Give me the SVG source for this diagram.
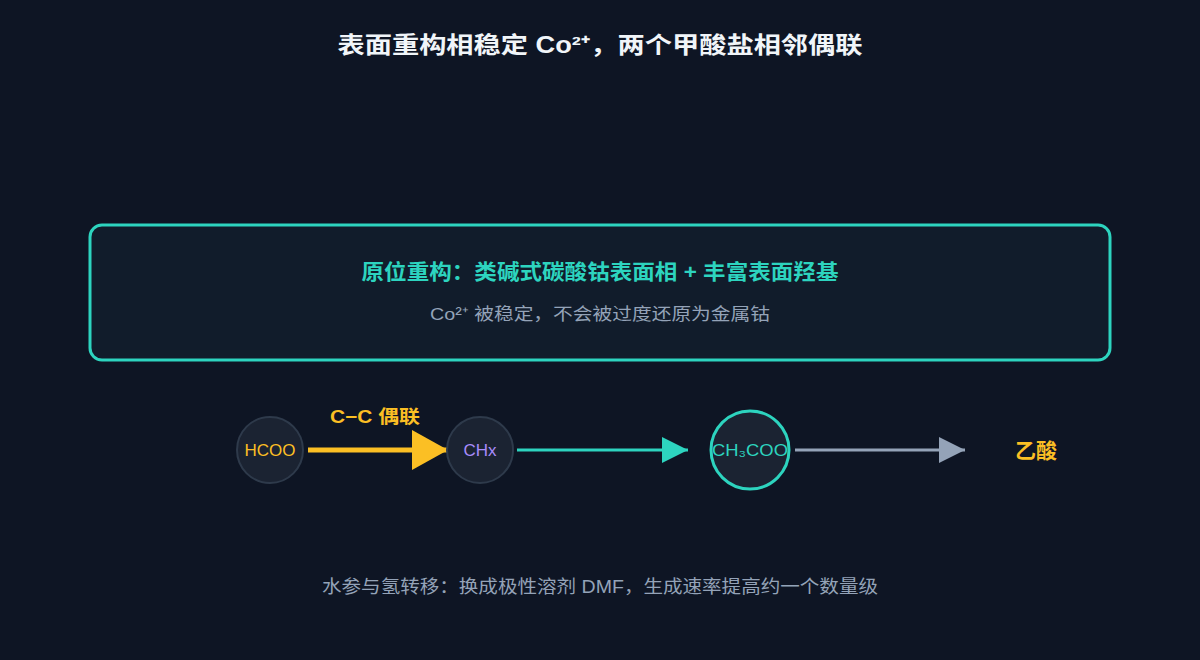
<svg xmlns="http://www.w3.org/2000/svg" width="1200" height="660" viewBox="0 0 1200 660">
<style>
text{font-family:"Liberation Sans","Noto Sans CJK SC",sans-serif}
.node{fill:#1b2332;stroke:#2e3a4b;stroke-width:2}
.lbl{font-size:17px;text-anchor:middle}
</style>
<defs>
<marker id="ay" markerUnits="userSpaceOnUse" markerWidth="40" markerHeight="40" refX="36" refY="20" orient="auto"><path d="M0,0L36,20L0,40z" fill="#fbbf24"/></marker>
<marker id="at" markerUnits="userSpaceOnUse" markerWidth="28" markerHeight="28" refX="26" refY="13" orient="auto"><path d="M0,0L26,13L0,26z" fill="#2dd4bf"/></marker>
<marker id="ag" markerUnits="userSpaceOnUse" markerWidth="28" markerHeight="28" refX="26" refY="13" orient="auto"><path d="M0,0L26,13L0,26z" fill="#94a3b8"/></marker>
</defs>
<rect width="1200" height="660" fill="#0e1524"/>
<text x="600" y="53" font-size="23" font-weight="bold" fill="#f1f5f9" text-anchor="middle" textLength="525" lengthAdjust="spacingAndGlyphs">表面重构相稳定 Co²⁺，两个甲酸盐相邻偶联</text>
<g id="box">
<rect x="90" y="225" width="1020" height="135" rx="12" fill="#111c2b" stroke="#2dd4bf" stroke-width="3"/>
<text x="600" y="279" font-size="21" font-weight="bold" fill="#2dd4bf" text-anchor="middle" textLength="477" lengthAdjust="spacingAndGlyphs">原位重构：类碱式碳酸钴表面相 + 丰富表面羟基</text>
<text x="600" y="320" font-size="17" fill="#94a3b8" text-anchor="middle" textLength="340" lengthAdjust="spacingAndGlyphs">Co²⁺ 被稳定，不会被过度还原为金属钴</text>
</g>
<g id="connectors">
<line x1="308" y1="450" x2="448" y2="450" stroke="#fbbf24" stroke-width="5" marker-end="url(#ay)"/>
<text x="375" y="423" font-size="18" font-weight="bold" fill="#fbbf24" text-anchor="middle" textLength="90" lengthAdjust="spacingAndGlyphs">C−C 偶联</text>
<line x1="517" y1="450" x2="688" y2="450" stroke="#2dd4bf" stroke-width="3" marker-end="url(#at)"/>
<line x1="795" y1="450" x2="965" y2="450" stroke="#94a3b8" stroke-width="3" marker-end="url(#ag)"/>
</g>
<g id="hcoo"><circle cx="270" cy="450" r="33" class="node"/><text x="270" y="456" class="lbl" fill="#fbbf24">HCOO</text></g>
<g id="chx"><circle cx="480" cy="450" r="33" class="node"/><text x="480" y="456" class="lbl" fill="#a78bfa">CHx</text></g>
<g id="ch3coo"><circle cx="750" cy="450" r="39" class="node" style="stroke:#2dd4bf;stroke-width:3"/><text x="750" y="456" class="lbl" fill="#2dd4bf" textLength="76" lengthAdjust="spacingAndGlyphs">CH₃COO</text></g>
<g id="acetic"><text x="1036" y="458" font-size="21" font-weight="bold" fill="#fbbf24" text-anchor="middle">乙酸</text></g>
<text x="600" y="593" font-size="18" fill="#94a3b8" text-anchor="middle" textLength="556" lengthAdjust="spacingAndGlyphs">水参与氢转移：换成极性溶剂 DMF，生成速率提高约一个数量级</text>
</svg>
